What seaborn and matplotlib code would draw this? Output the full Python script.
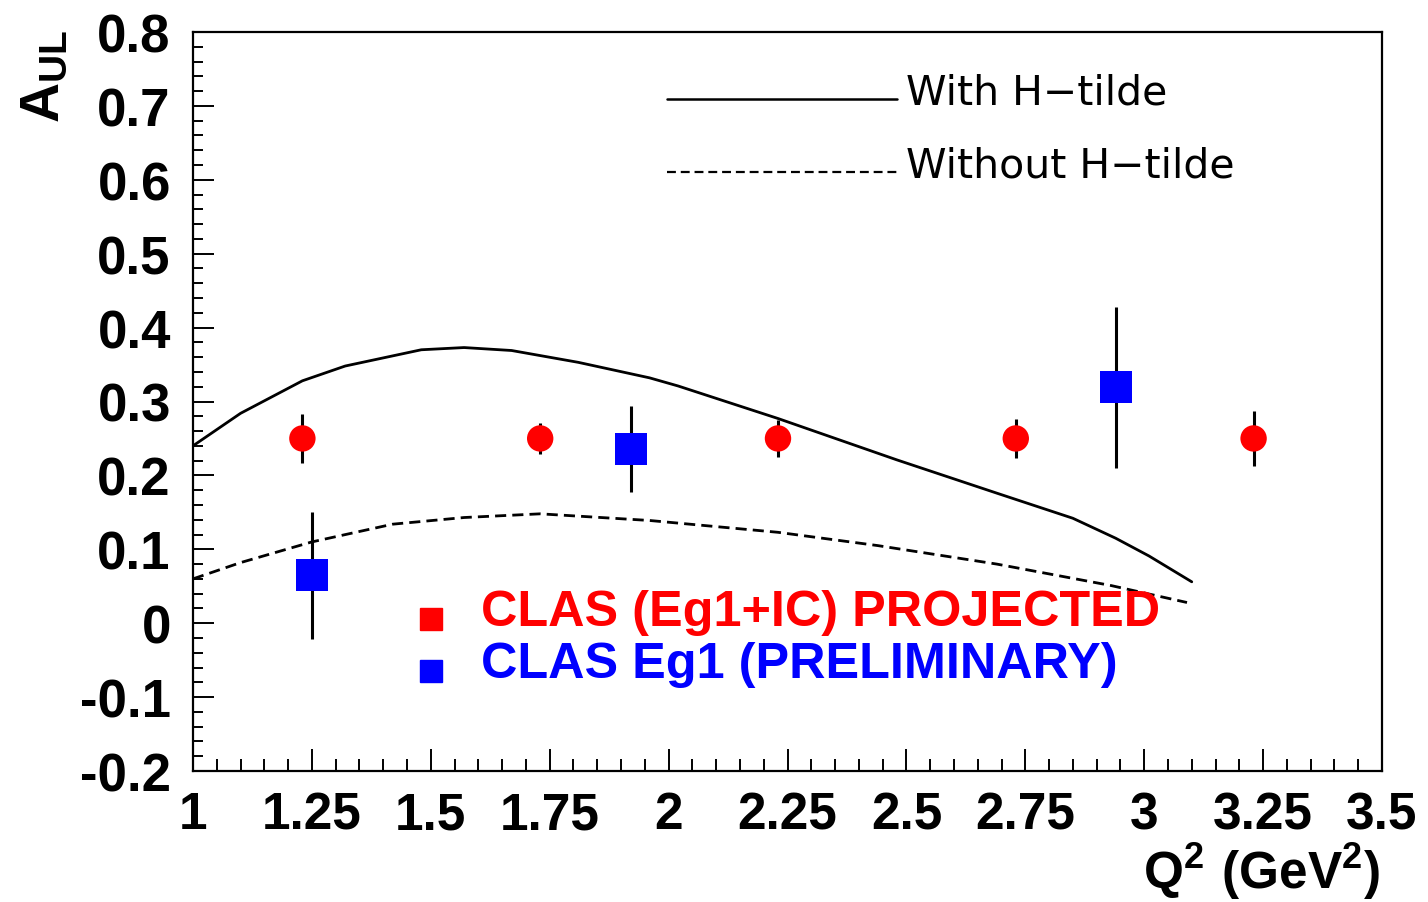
import matplotlib
matplotlib.use("Agg")
import matplotlib.pyplot as plt
from matplotlib.ticker import MultipleLocator, FixedLocator
import seaborn as sns
import pandas as pd

# Model curves: beam-target asymmetry vs Q^2
q2_with = [1.00, 1.10, 1.23, 1.32, 1.48, 1.57, 1.67, 1.81, 1.96, 2.02, 2.23, 2.48, 2.69, 2.85, 2.94, 3.01, 3.10]
a_with = [0.240, 0.284, 0.328, 0.348, 0.370, 0.373, 0.369, 0.353, 0.332, 0.321, 0.277, 0.221, 0.176, 0.142, 0.115, 0.091, 0.056]

q2_without = [1.00, 1.10, 1.25, 1.42, 1.57, 1.73, 1.96, 2.23, 2.44, 2.69, 2.93, 3.09]
a_without = [0.060, 0.082, 0.110, 0.134, 0.143, 0.148, 0.139, 0.123, 0.105, 0.080, 0.051, 0.028]

# CLAS projected points
q2_proj = [1.23, 1.73, 2.23, 2.73, 3.23]
a_proj = [0.250, 0.250, 0.250, 0.250, 0.250]
err_proj = [0.033, 0.021, 0.025, 0.026, 0.037]

# CLAS Eg1 preliminary points
q2_prel = [1.25, 1.92, 2.94]
a_prel = [0.065, 0.236, 0.319]
err_prel = [0.086, 0.058, 0.109]

x_ticks = [1.0, 1.25, 1.5, 1.75, 2.0, 2.25, 2.5, 2.75, 3.0, 3.25, 3.5]
x_tick_labels = ["1", "1.25", "1.5", "1.75", "2", "2.25", "2.5", "2.75", "3", "3.25", "3.5"]
y_ticks = [-0.2, -0.1, 0.0, 0.1, 0.2, 0.3, 0.4, 0.5, 0.6, 0.7, 0.8]
y_tick_labels = ["-0.2", "-0.1", "0", "0.1", "0.2", "0.3", "0.4", "0.5", "0.6", "0.7", "0.8"]

legend_curves = ["With H\u2212tilde", "Without H\u2212tilde"]
legend_points = ["CLAS (Eg1+IC) PROJECTED", "CLAS Eg1 (PRELIMINARY)"]

sns.set_theme(style="white")
plt.rcParams["font.family"] = ["Liberation Sans", "DejaVu Sans"]
plt.rcParams["text.color"] = "black"
plt.rcParams["mathtext.fontset"] = "custom"
plt.rcParams["mathtext.rm"] = "Liberation Sans"
plt.rcParams["mathtext.bf"] = "Liberation Sans:bold"

fig = plt.figure(figsize=(14.28, 9.03), dpi=100)
ax = fig.add_axes([193 / 1428, 131 / 903, 1189 / 1428, 739 / 903])
ax.set_facecolor("white")

curves = pd.concat([
    pd.DataFrame({"q2": q2_with, "a": a_with, "model": legend_curves[0]}),
    pd.DataFrame({"q2": q2_without, "a": a_without, "model": legend_curves[1]}),
])
sns.lineplot(data=curves, x="q2", y="a", style="model", color="black", linewidth=2.0,
             dashes={legend_curves[0]: "", legend_curves[1]: (4, 2.2)}, legend=False,
             sort=False, estimator=None, ax=ax)

ax.errorbar(q2_proj, a_proj, yerr=err_proj, fmt="none", ecolor="black", elinewidth=2.2, capsize=0, zorder=3)
ax.errorbar(q2_prel, a_prel, yerr=err_prel, fmt="none", ecolor="black", elinewidth=2.2, capsize=0, zorder=3)

sns.scatterplot(x=q2_proj, y=a_proj, marker="o", s=19 ** 2, color="#ff0000", edgecolor="none", zorder=4, ax=ax)
sns.scatterplot(x=q2_prel, y=a_prel, marker="s", s=23 ** 2, color="#0000ff", edgecolor="none", zorder=4, ax=ax)

ax.set_xlim(1.0, 3.5)
ax.set_ylim(-0.2, 0.8)
ax.set_xlabel("")
ax.set_ylabel("")

ax.xaxis.set_major_locator(FixedLocator(x_ticks))
ax.set_xticklabels(x_tick_labels)
ax.xaxis.set_minor_locator(MultipleLocator(0.05))
ax.yaxis.set_major_locator(FixedLocator(y_ticks))
ax.set_yticklabels(y_tick_labels)
ax.yaxis.set_minor_locator(MultipleLocator(0.02))

ax.tick_params(axis="x", which="major", direction="in", length=16, width=1.4, color="black",
               labelcolor="black", pad=14, labelsize=37, bottom=True, top=False)
ax.tick_params(axis="x", which="minor", direction="in", length=9, width=1.4, color="black",
               bottom=True, top=False)
ax.tick_params(axis="y", which="major", direction="in", length=15, width=1.4, color="black",
               labelcolor="black", pad=16, labelsize=38, left=True, right=False)
ax.tick_params(axis="y", which="minor", direction="in", length=7.5, width=1.4, color="black",
               left=True, right=False)
for lab in ax.get_xticklabels() + ax.get_yticklabels():
    lab.set_fontweight("bold")

for sp in ax.spines.values():
    sp.set_visible(True)
    sp.set_color("black")
    sp.set_linewidth(1.6)

# Curve key, upper right
ax.plot([0.399, 0.592], [0.909, 0.909], transform=ax.transAxes, color="black", linewidth=1.8)
ax.plot([0.399, 0.592], [0.8106, 0.8106], transform=ax.transAxes, color="black", linewidth=1.6,
        dashes=(4, 2.2))
ax.text(0.6, 0.918, legend_curves[0], transform=ax.transAxes, fontsize=29.5, va="center", ha="left",
        family=["DejaVu Sans"], color="black")
ax.text(0.6, 0.819, legend_curves[1], transform=ax.transAxes, fontsize=29.5, va="center", ha="left",
        family=["DejaVu Sans"], color="black")

# Data key, lower middle
ax.plot([0.2002], [0.2057], transform=ax.transAxes, marker="s", markersize=16, color="#ff0000",
        linestyle="none")
ax.plot([0.2002], [0.1353], transform=ax.transAxes, marker="s", markersize=16, color="#0000ff",
        linestyle="none")
ax.text(0.2422, 0.2152, legend_points[0], transform=ax.transAxes, fontsize=36.3, fontweight="bold",
        va="center", ha="left", color="#ff0000")
ax.text(0.2422, 0.1448, legend_points[1], transform=ax.transAxes, fontsize=36.3, fontweight="bold",
        va="center", ha="left", color="#0000ff")

fig.text(45 / 1428, 1 - 30 / 903, r"$\mathbf{A_{UL}}$", rotation=90, ha="center", va="top", fontsize=40)
fig.text(1380 / 1428, 1 / 903, r"$\mathbf{Q^{2}\ (GeV^{2})}$", ha="right", va="bottom", fontsize=37)

fig.savefig("out.png", dpi=100, facecolor="white")
